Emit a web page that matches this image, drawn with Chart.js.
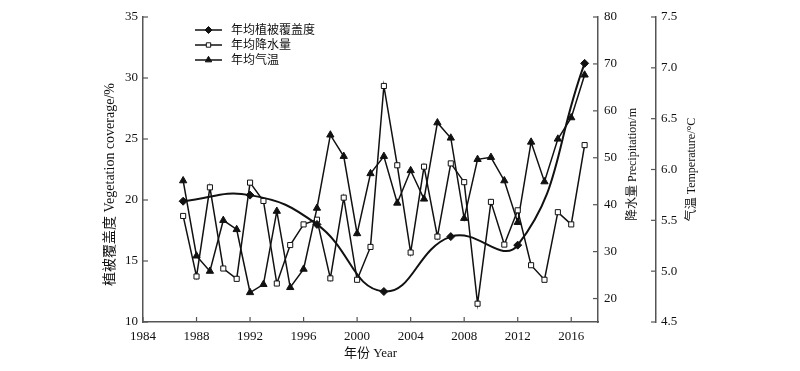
<!DOCTYPE html>
<html>
<head>
<meta charset="utf-8">
<script src="https://cdn.jsdelivr.net/npm/chart.js@4.4.0/dist/chart.umd.min.js"></script>
<style>
  html, body { margin: 0; padding: 0; background: #fff; }
  #wrap { width: 800px; height: 371px; }
</style>
</head>
<body>
<div id="wrap"><canvas id="chart"></canvas></div>
<script>
(function () {
  'use strict';

  // yearly series 1987-2017
  var years = [1987, 1988, 1989, 1990, 1991, 1992, 1993, 1994, 1995, 1996, 1997,
    1998, 1999, 2000, 2001, 2002, 2003, 2004, 2005, 2006, 2007,
    2008, 2009, 2010, 2011, 2012, 2013, 2014, 2015, 2016, 2017];
  var precipitation = [37.6, 24.7, 43.7, 26.4, 24.2, 44.7, 40.8, 23.2, 31.4, 35.8, 36.8,
    24.3, 41.5, 24.0, 31.0, 65.3, 48.4, 29.8, 48.1, 33.2, 48.8,
    44.8, 18.9, 40.6, 31.5, 38.8, 27.1, 24.0, 38.4, 35.8, 52.7];
  var temperature = [5.89, 5.15, 5.00, 5.50, 5.41, 4.79, 4.87, 5.59, 4.84, 5.02, 5.62,
    6.34, 6.13, 5.37, 5.96, 6.13, 5.67, 5.99, 5.71, 6.46, 6.31,
    5.52, 6.10, 6.12, 5.89, 5.48, 6.27, 5.88, 6.30, 6.51, 6.93];

  // vegetation coverage, every 5 years
  var vegYears = [1987, 1992, 1997, 2002, 2007, 2012, 2017];
  var vegetation = [19.9, 20.4, 18.0, 12.5, 17.0, 16.3, 31.2];

  // tick values
  var xTicks = [1984, 1988, 1992, 1996, 2000, 2004, 2008, 2012, 2016];
  var vegTicks = [10, 15, 20, 25, 30, 35];
  var rainTicks = [20, 30, 40, 50, 60, 70, 80];
  var tempTicks = [4.5, 5.0, 5.5, 6.0, 6.5, 7.0, 7.5];

  var legendLabels = ['年均植被覆盖度', '年均降水量', '年均气温'];
  var xTitle = '年份 Year';
  var vegTitle = '植被覆盖度 Vegetation coverage/%';
  var rainTitle = '降水量 Precipitation/m';
  var tempTitle = '气温 Temperature/°C';

  var fontFamily = "'Liberation Serif', 'Noto Sans CJK SC', serif";
  var ink = '#111';
  var axisColor = '#555';

  function pairs(xs, ys) {
    return xs.map(function (x, i) { return { x: x, y: ys[i] }; });
  }

  function fixedTicks(values) {
    return function (s) {
      s.ticks = values.map(function (v) { return { value: v }; });
    };
  }

  // tick marks pointing into the plot
  var innerTicks = {
    id: 'innerTicks',
    afterDraw: function (chart) {
      var ctx = chart.ctx;
      var area = chart.chartArea;
      ctx.save();
      ctx.strokeStyle = axisColor;
      ctx.lineWidth = 1.2;
      ['x', 'yVeg', 'yRain', 'yTemp'].forEach(function (id) {
        var s = chart.scales[id];
        s.ticks.forEach(function (t) {
          var p = s.getPixelForValue(t.value);
          ctx.beginPath();
          if (id === 'x') {
            ctx.moveTo(p, area.bottom); ctx.lineTo(p, area.bottom - 5);
          } else if (id === 'yVeg') {
            ctx.moveTo(area.left, p); ctx.lineTo(area.left + 5, p);
          } else {
            ctx.moveTo(s.left, p); ctx.lineTo(s.left - 5, p);
          }
          ctx.stroke();
        });
      });
      ctx.restore();
    }
  };

  // all y titles read bottom-to-top, like the original
  var yTitles = {
    id: 'yTitles',
    afterDraw: function (chart) {
      var ctx = chart.ctx;
      var area = chart.chartArea;
      var mid = (area.top + area.bottom) / 2;
      var items = [
        { text: vegTitle, x: chart.scales.yVeg.right - 33, y: mid + 15, size: 14 },
        { text: rainTitle, x: chart.scales.yRain.left + 35, y: mid - 5, size: 12 },
        { text: tempTitle, x: chart.scales.yTemp.left + 36, y: mid, size: 12 }
      ];
      ctx.save();
      ctx.fillStyle = ink;
      ctx.textAlign = 'center';
      ctx.textBaseline = 'middle';
      items.forEach(function (it) {
        ctx.save();
        ctx.translate(it.x, it.y);
        ctx.rotate(-Math.PI / 2);
        ctx.font = it.size + 'px ' + fontFamily;
        ctx.fillText(it.text, 0, 0);
        ctx.restore();
      });
      ctx.restore();
    }
  };

  // legend: line sample with marker, top-left inside the plot
  var lineLegend = {
    id: 'lineLegend',
    afterDraw: function (chart) {
      var ctx = chart.ctx;
      var area = chart.chartArea;
      var x0 = area.left + 52;
      ctx.save();
      ctx.font = '12px ' + fontFamily;
      ctx.textBaseline = 'middle';
      chart.data.datasets.forEach(function (ds, i) {
        var y = area.top + 13 + i * 15;
        ctx.strokeStyle = ink;
        ctx.lineWidth = 1.5;
        ctx.beginPath();
        ctx.moveTo(x0, y); ctx.lineTo(x0 + 27, y);
        ctx.stroke();
        ctx.fillStyle = ds.pointBackgroundColor;
        ctx.strokeStyle = ds.pointBorderColor;
        ctx.lineWidth = 1;
        Chart.helpers.drawPoint(ctx, {
          pointStyle: ds.pointStyle, radius: ds.pointRadius - 0.5, rotation: 0, borderWidth: 1
        }, x0 + 13.5, y);
        ctx.fillStyle = ink;
        ctx.fillText(ds.label, x0 + 36, y + 1);
      });
      ctx.restore();
    }
  };

  var tickFont = { family: fontFamily, size: 13 };

  new Chart(document.getElementById('chart'), {
    type: 'line',
    data: {
      datasets: [{
        label: legendLabels[0],
        data: pairs(vegYears, vegetation),
        yAxisID: 'yVeg',
        borderColor: ink,
        borderWidth: 2,
        tension: 0.45,
        pointStyle: 'rectRot',
        pointRadius: 4,
        pointBackgroundColor: ink,
        pointBorderColor: ink,
        pointBorderWidth: 1
      }, {
        label: legendLabels[1],
        data: pairs(years, precipitation),
        yAxisID: 'yRain',
        borderColor: ink,
        borderWidth: 1.5,
        tension: 0,
        pointStyle: 'rect',
        pointRadius: 3.6,
        pointBackgroundColor: '#fff',
        pointBorderColor: ink,
        pointBorderWidth: 1
      }, {
        label: legendLabels[2],
        data: pairs(years, temperature),
        yAxisID: 'yTemp',
        borderColor: ink,
        borderWidth: 1.5,
        tension: 0,
        pointStyle: 'triangle',
        pointRadius: 4.2,
        pointBackgroundColor: ink,
        pointBorderColor: ink,
        pointBorderWidth: 1
      }]
    },
    options: {
      responsive: true,
      maintainAspectRatio: false,
      animation: false,
      layout: { padding: { top: 17, left: 0, right: 84, bottom: 0 } },
      plugins: { legend: { display: false }, tooltip: { enabled: false } },
      scales: {
        x: {
          type: 'linear',
          min: 1984,
          max: 2018,
          grid: { display: false, drawTicks: false },
          border: { display: true, color: axisColor, width: 1.5 },
          ticks: { autoSkip: false, padding: 7, color: ink, font: tickFont, callback: function (v) { return String(v); } },
          afterBuildTicks: fixedTicks(xTicks),
          afterFit: function (s) { s.height = 49; },
          title: { display: true, text: xTitle, color: ink, font: { family: fontFamily, size: 13 }, padding: { top: 0, bottom: 10 } }
        },
        yVeg: {
          position: 'left',
          min: 10,
          max: 35,
          grid: { display: false, drawTicks: false },
          border: { display: true, color: axisColor, width: 1.5 },
          ticks: { autoSkip: false, padding: 5, color: ink, font: tickFont },
          afterBuildTicks: fixedTicks(vegTicks),
          afterFit: function (s) { s.width = 143; }
        },
        yRain: {
          position: 'right',
          min: 15,
          max: 80,
          grid: { display: false, drawTicks: false },
          border: { display: true, color: axisColor, width: 1.5 },
          ticks: { autoSkip: false, padding: 6, color: ink, font: tickFont },
          afterBuildTicks: fixedTicks(rainTicks),
          afterFit: function (s) { s.width = 58; }
        },
        yTemp: {
          position: 'right',
          min: 4.5,
          max: 7.5,
          grid: { display: false, drawTicks: false },
          border: { display: true, color: axisColor, width: 1.5 },
          ticks: { autoSkip: false, padding: 5, color: ink, font: tickFont, callback: function (v) { return Number(v).toFixed(1); } },
          afterBuildTicks: fixedTicks(tempTicks),
          afterFit: function (s) { s.width = 60; }
        }
      }
    },
    plugins: [innerTicks, yTitles, lineLegend]
  });
})();
</script>
</body>
</html>
